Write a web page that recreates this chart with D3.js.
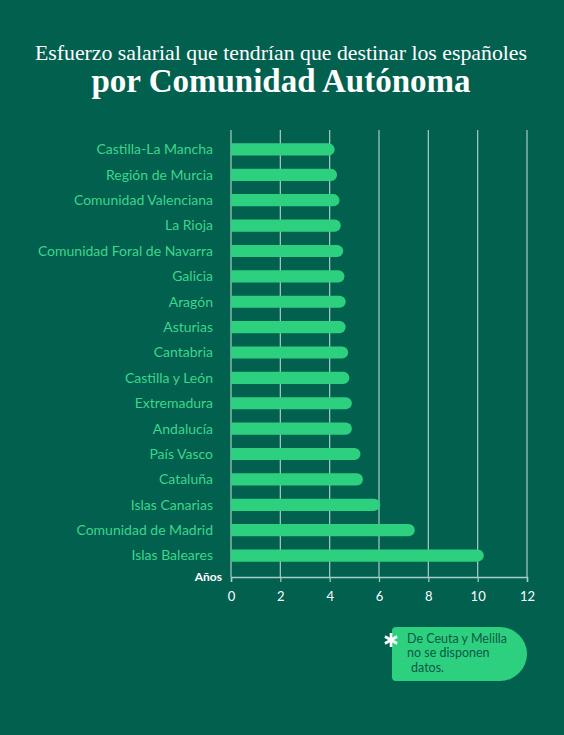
<!DOCTYPE html>
<html>
<head>
<meta charset="utf-8">
<script src="https://cdn.jsdelivr.net/npm/d3@7"></script>
<style>
  body { margin: 0; background: #02604f; }
  svg { display: block; }
</style>
</head>
<body>
<div id="chart-area"></div>
<script>
// datos
var regions = ['Castilla-La Mancha', 'Región de Murcia', 'Comunidad Valenciana', 'La Rioja',
  'Comunidad Foral de Navarra', 'Galicia', 'Aragón', 'Asturias', 'Cantabria', 'Castilla y León',
  'Extremadura', 'Andalucía', 'País Vasco', 'Cataluña', 'Islas Canarias', 'Comunidad de Madrid',
  'Islas Baleares']
var years = [4.2, 4.3, 4.4, 4.45, 4.55, 4.6, 4.65, 4.65, 4.75, 4.8, 4.9, 4.9, 5.25, 5.35, 6.05, 7.45, 10.25]
var xTicks = [0, 2, 4, 6, 8, 10, 12]

var W = 564, H = 735
var margin = { top: 130, left: 231, right: 37, bottom: 158 }
var width = W - margin.left - margin.right
var height = H - margin.top - margin.bottom

var svg = d3.select('#chart-area').append('svg')
    .attr('width', W)
    .attr('height', H)

svg.append('rect').attr('width', W).attr('height', H).attr('fill', '#02604f')

svg.append('text')
    .attr('x', W / 2 - 1).attr('y', 60)
    .attr('text-anchor', 'middle')
    .attr('font-family', 'Liberation Serif, serif')
    .attr('font-size', '21.8px')
    .attr('fill', '#ffffff')
    .text('Esfuerzo salarial que tendrían que destinar los españoles')

svg.append('text')
    .attr('x', W / 2 - 1).attr('y', 92)
    .attr('text-anchor', 'middle')
    .attr('font-family', 'Liberation Serif, serif')
    .attr('font-weight', 'bold')
    .attr('font-size', '33px')
    .attr('fill', '#ffffff')
    .text('por Comunidad Autónoma')

var g = svg.append('g').attr('transform', `translate(${ margin.left }, ${ margin.top })`)

var x = d3.scaleLinear().domain([0, 12]).range([0, width])
var y = d3.scaleBand().domain(regions).range([7, height - 9]).paddingInner(0.52).paddingOuter(0.25)

// gridlines
g.selectAll('.grid').data(xTicks)
  .enter().append('line')
    .attr('class', 'grid')
    .attr('x1', d => x(d)).attr('x2', d => x(d))
    .attr('y1', 0).attr('y2', height)
    .attr('stroke', '#a9cdc5')
    .attr('stroke-width', 1.2)

// eje x
var xAxisGroup = g.append('g').attr('transform', `translate(0, ${ height })`)
xAxisGroup.call(d3.axisBottom(x).tickValues(xTicks).tickSize(5).tickPadding(10))
xAxisGroup.select('.domain').attr('stroke', '#a9cdc5').attr('stroke-width', 1.5)
xAxisGroup.selectAll('.tick line').attr('stroke', '#a9cdc5').attr('stroke-width', 1.2)
xAxisGroup.selectAll('.tick text')
    .attr('fill', '#ffffff')
    .attr('font-family', 'Lato, sans-serif')
    .attr('font-size', '13px')

g.append('text')
    .attr('x', -9).attr('y', height + 4)
    .attr('text-anchor', 'end')
    .attr('font-family', 'Lato, sans-serif')
    .attr('font-weight', 'bold')
    .attr('font-size', '12px')
    .attr('fill', '#ffffff')
    .text('Años')

// barras con extremo redondeado
var bh = y.bandwidth()
g.selectAll('.bar').data(regions)
  .enter().append('path')
    .attr('class', 'bar')
    .attr('fill', '#2dd07f')
    .attr('d', (d, i) => {
      var x1 = x(years[i]), r = bh / 2, y0 = y(d)
      return `M0,${y0} H${x1 - r} A${r},${r} 0 0 1 ${x1 - r},${y0 + bh} H0 Z`
    })

// etiquetas
g.selectAll('.label').data(regions)
  .enter().append('text')
    .attr('class', 'label')
    .attr('x', -18)
    .attr('y', d => y(d) + bh / 2)
    .attr('dy', '0.35em')
    .attr('text-anchor', 'end')
    .attr('font-family', 'Lato, sans-serif')
    .attr('font-size', '14px')
    .attr('fill', '#3dd68b')
    .text(d => d)

// nota
var note = svg.append('g').attr('transform', 'translate(392, 627)')
note.append('path')
    .attr('d', 'M4,0 H108 A27,27 0 0 1 108,54 H4 A4,4 0 0 1 0,50 V4 A4,4 0 0 1 4,0 Z')
    .attr('fill', '#2dd07f')
// asterisco
var star = note.append('g').attr('transform', 'translate(-1, 13)')
star.selectAll('line').data([90, 30, -30])
  .enter().append('line')
    .attr('x1', d => -7 * Math.cos(d * Math.PI / 180))
    .attr('y1', d => -7 * Math.sin(d * Math.PI / 180))
    .attr('x2', d => 7 * Math.cos(d * Math.PI / 180))
    .attr('y2', d => 7 * Math.sin(d * Math.PI / 180))
    .attr('stroke', '#ffffff')
    .attr('stroke-width', 2.6)
var lines = [['De Ceuta y Melilla', 15, 16], ['no se disponen', 15, 30], ['datos.', 19, 45]]
note.selectAll('.nt').data(lines)
  .enter().append('text')
    .attr('class', 'nt')
    .attr('x', d => d[1]).attr('y', d => d[2])
    .attr('font-family', 'Lato, sans-serif')
    .attr('font-size', '12.5px')
    .attr('fill', '#0b5a47')
    .text(d => d[0])
</script>
</body>
</html>
